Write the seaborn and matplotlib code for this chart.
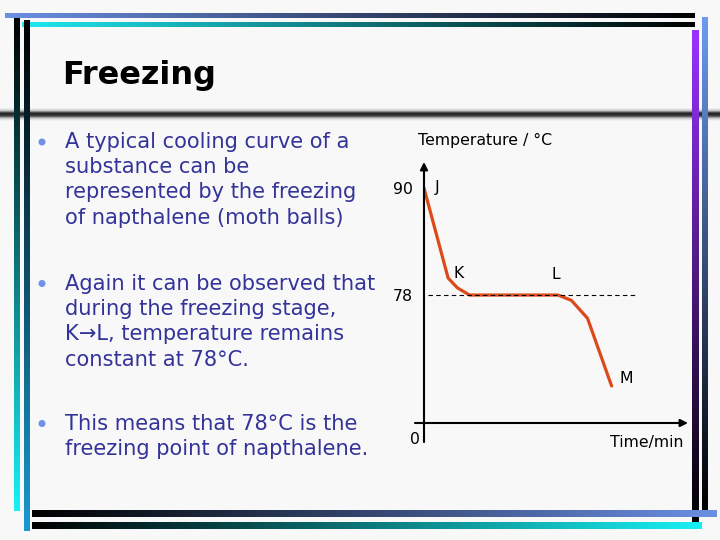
import numpy as np
import matplotlib
matplotlib.use("Agg")
import matplotlib.pyplot as plt
from matplotlib.colors import LinearSegmentedColormap
from matplotlib.patches import Circle
import seaborn as sns

sns.set_style("white")
plt.rcParams['font.family'] = ['DejaVu Sans']
plt.rcParams['text.color'] = 'black'
plt.rcParams['ytick.color'] = 'black'
plt.rcParams['xtick.color'] = 'black'

# Cooling curve of napthalene (schematic values)
time_min = [0.0, 1.8, 2.5, 3.4, 10.0, 11.0, 12.2, 14.0]
temp_c = [90.0, 79.9, 78.8, 78.0, 78.0, 77.4, 75.4, 67.8]
point_names = ["J", "K", "L", "M"]
point_index = [0, 1, 4, 7]
freezing_point = 78
y_ticks = [78, 90]

title = "Freezing"
bullets = [
    ["A typical cooling curve of a", "substance can be",
     "represented by the freezing", "of napthalene (moth balls)"],
    ["Again it can be observed that", "during the freezing stage,",
     "K\u2192L, temperature remains", "constant at 78\u00b0C."],
    ["This means that 78\u00b0C is the", "freezing point of napthalene."],
]

BG = "#f8f8f8"
TEXT_BLUE = "#333399"
LINE_RED = "#dc4a1c"

fig = plt.figure(figsize=(7.2, 5.4), dpi=100, facecolor=BG)

# background axes in pixel coordinates for the slide decoration
bg = fig.add_axes([0, 0, 1, 1])
bg.set_facecolor(BG)


def grad_bar(x0, x1, y0, y1, colors, vertical=False):
    cmap = LinearSegmentedColormap.from_list("g", colors)
    g = np.linspace(0, 1, 256)
    arr = g.reshape(-1, 1) if vertical else g.reshape(1, -1)
    bg.imshow(arr, cmap=cmap, extent=[x0, x1, y1, y0], origin="upper",
              aspect="auto", interpolation="bilinear")


# title separator shadow
grad_bar(0, 720, 108, 121, [BG, "#c8c8c8", "#1e1e1e", "#3c3c3c", "#d0d0d0", BG], vertical=True)

# frame bars
grad_bar(5, 695, 13, 18, ["#6b8fe3", "#000000"])
grad_bar(22, 695, 22, 27, ["#1ee8f0", "#000000"])
grad_bar(14, 20, 18, 511, ["#000000", "#0e7478", "#16f2f7"], vertical=True)
grad_bar(24, 30, 20, 531, ["#000000", "#1a9ad0"], vertical=True)
grad_bar(692, 699, 30, 522, ["#9933ff", "#000000"], vertical=True)
grad_bar(702, 708, 17, 510, ["#6b9bf0", "#000000"], vertical=True)
grad_bar(32, 717, 510, 517, ["#000000", "#6b8fe3"])
grad_bar(32, 702, 522, 529, ["#000000", "#18f0f5"])

bg.set_xlim(0, 720)
bg.set_ylim(540, 0)
bg.axis("off")

# title
bg.text(62, 84, title, fontsize=23, fontweight="bold", color="black", va="baseline")

# bullet text
baselines = [[148, 173, 198.5, 224], [289.5, 315, 340.5, 366], [429.5, 455]]
for lines, ys in zip(bullets, baselines):
    bg.add_patch(Circle((42, ys[0] - 6), 2.8, color="#6f8fe8", zorder=3))
    for line, y in zip(lines, ys):
        bg.text(65, y, line, fontsize=15.1, color=TEXT_BLUE, va="baseline")

# chart axis labels
bg.text(485, 140, "Temperature / \u00b0C", fontsize=11.3, ha="center", va="center", color="black")
bg.text(647, 443, "Time/min", fontsize=11.3, ha="center", va="center", color="black")
bg.text(415, 439, "0", fontsize=11.3, ha="center", va="center", color="black")

# chart axes
ax = fig.add_axes([424 / 720, (540 - 423) / 540, (688 - 424) / 720, (423 - 162) / 540])
ax.patch.set_alpha(0)
sns.lineplot(x=time_min, y=temp_c, ax=ax, color=LINE_RED, linewidth=2.3, sort=False)
ax.hlines(freezing_point, 0.3, 16.0, colors="black", linestyles=(0, (4, 3)), linewidth=0.8)
ax.set_xlim(0, 19.7)
ax.set_ylim(63.65, 92.92)
for s in ax.spines.values():
    s.set_visible(False)
ax.set_xticks([])
ax.set_yticks(y_ticks)
ax.set_yticklabels([str(v) for v in y_ticks], fontsize=11.3, color="black")
ax.tick_params(axis="y", length=0, pad=8)

arrow = dict(arrowstyle="-|>", color="black", lw=1.5, mutation_scale=11,
             shrinkA=0, shrinkB=0)
ax.annotate("", xy=(1.0, 0), xytext=(-0.034, 0), xycoords="axes fraction",
            arrowprops=arrow, annotation_clip=False)
ax.annotate("", xy=(0, 1.0), xytext=(0, -0.073), xycoords="axes fraction",
            arrowprops=arrow, annotation_clip=False)

offsets = [(13, 1), (11, 5), (-2, 21), (15, 7)]
for name, i, off in zip(point_names, point_index, offsets):
    ax.annotate(name, xy=(time_min[i], temp_c[i]), xytext=off,
                textcoords="offset pixels", fontsize=11.3, ha="center", va="center",
                color="black", annotation_clip=False)

fig.savefig("out.png", dpi=100, facecolor=fig.get_facecolor())
